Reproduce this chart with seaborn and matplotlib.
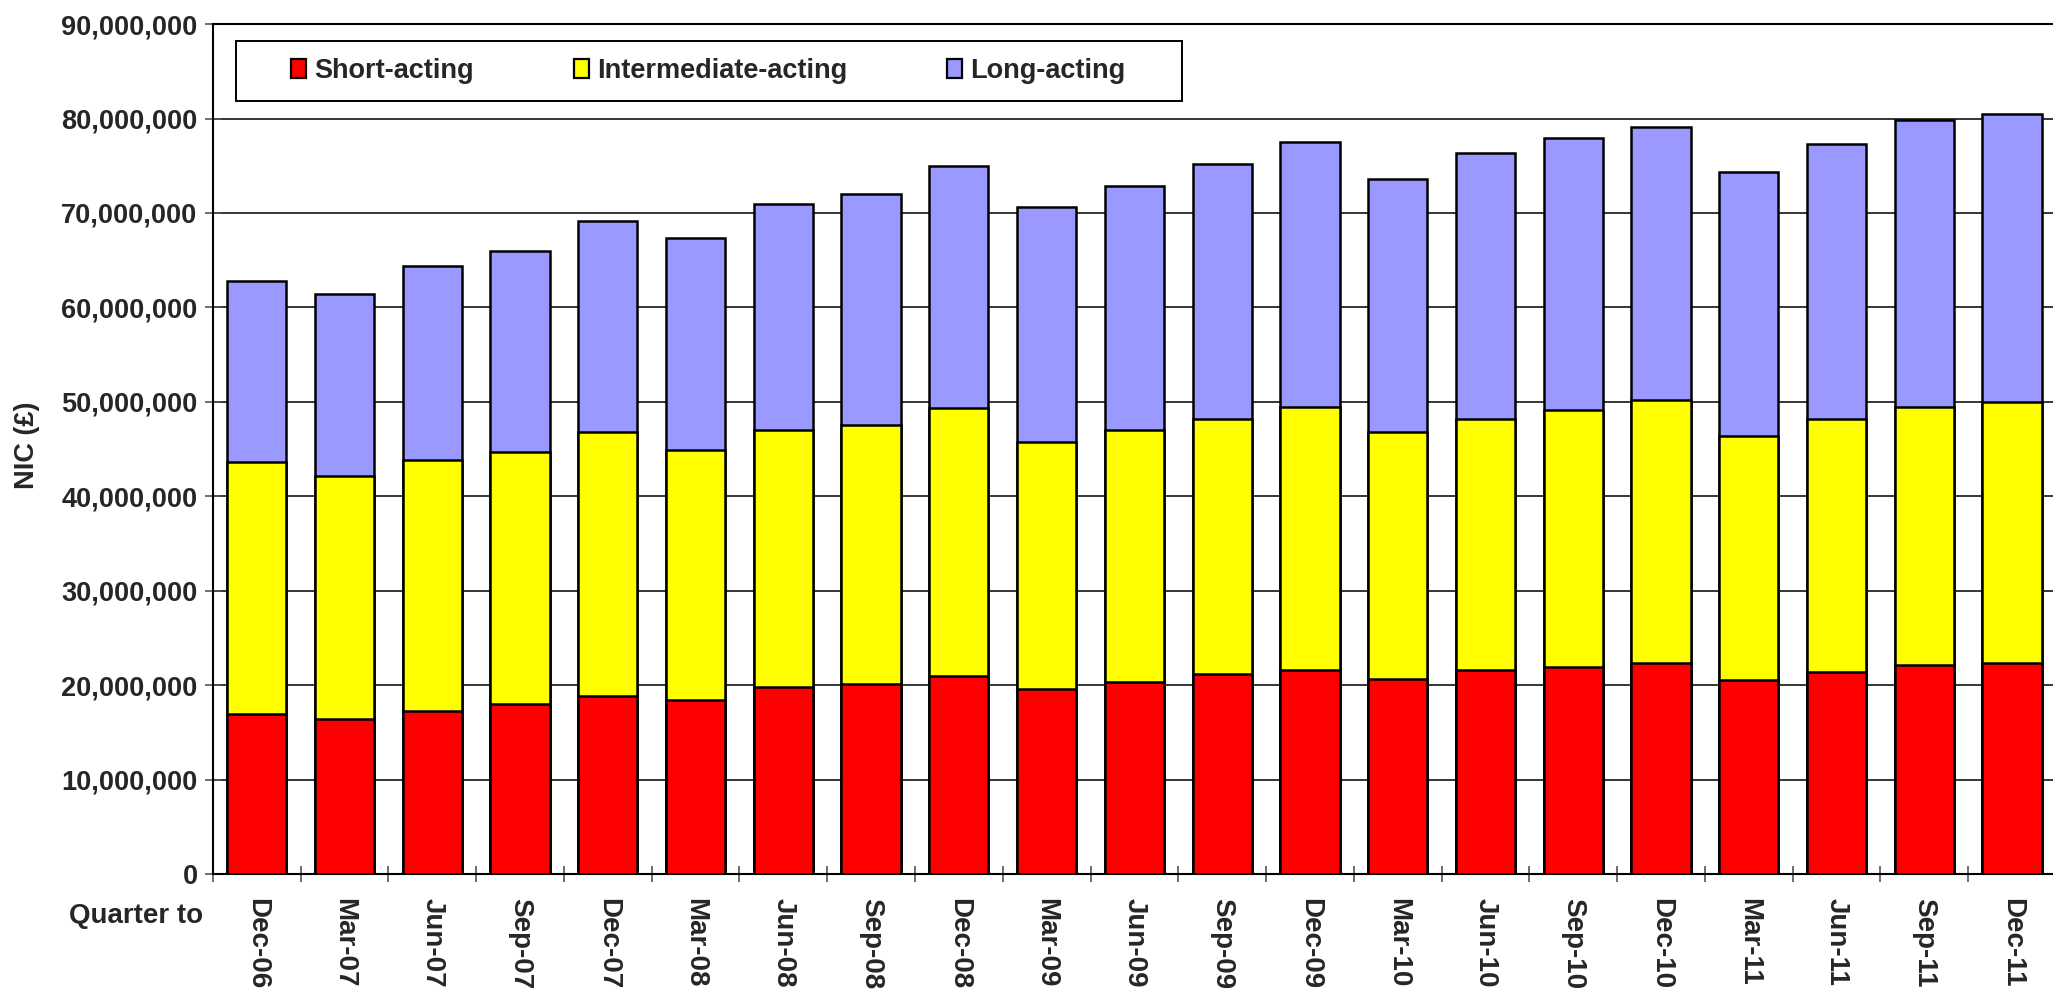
import numpy as np
import pandas as pd
import matplotlib
matplotlib.use('Agg')
import matplotlib.pyplot as plt
from matplotlib.patches import Patch, Rectangle
from matplotlib.ticker import FuncFormatter, MultipleLocator, FixedLocator
import seaborn as sns

quarters = ['Dec-06', 'Mar-07', 'Jun-07', 'Sep-07', 'Dec-07', 'Mar-08', 'Jun-08',
            'Sep-08', 'Dec-08', 'Mar-09', 'Jun-09', 'Sep-09', 'Dec-09', 'Mar-10',
            'Jun-10', 'Sep-10', 'Dec-10', 'Mar-11', 'Jun-11', 'Sep-11', 'Dec-11']

# NIC in pounds
short_acting = [16.9e6, 16.4e6, 17.3e6, 18.0e6, 18.9e6, 18.4e6, 19.8e6,
                20.1e6, 21.0e6, 19.6e6, 20.3e6, 21.2e6, 21.6e6, 20.7e6,
                21.6e6, 21.9e6, 22.3e6, 20.5e6, 21.4e6, 22.1e6, 22.3e6]
intermediate_acting = [26.7e6, 25.8e6, 26.5e6, 26.7e6, 27.9e6, 26.5e6, 27.2e6,
                       27.4e6, 28.3e6, 26.1e6, 26.7e6, 27.0e6, 27.9e6, 26.1e6,
                       26.6e6, 27.2e6, 27.9e6, 25.9e6, 26.8e6, 27.4e6, 27.7e6]
long_acting = [19.2e6, 19.2e6, 20.6e6, 21.3e6, 22.4e6, 22.5e6, 23.9e6,
               24.5e6, 25.7e6, 24.9e6, 25.9e6, 27.0e6, 28.0e6, 26.8e6,
               28.1e6, 28.8e6, 28.9e6, 27.9e6, 29.1e6, 30.3e6, 30.5e6]

series_names = ['Short-acting', 'Intermediate-acting', 'Long-acting']
colors = ['#FF0000', '#FFFF00', '#9999FF']

df = pd.DataFrame({'Quarter': quarters, 'Short': short_acting,
                   'Intermediate': intermediate_acting, 'Long': long_acting})
df['cum_short'] = df['Short']
df['cum_inter'] = df['Short'] + df['Intermediate']
df['cum_long'] = df['cum_inter'] + df['Long']

sns.set_theme(style='white')
plt.rcParams['font.family'] = ['Liberation Sans', 'DejaVu Sans']
plt.rcParams['font.weight'] = 'bold'

fig = plt.figure(figsize=(20.53, 9.91), dpi=100)
ax = fig.add_axes([0.1037, 0.118, 0.8977, 0.8577])

# draw tallest first so the lower stacks sit on top
for col, c in zip(['cum_long', 'cum_inter', 'cum_short'], colors[::-1]):
    sns.barplot(data=df, x='Quarter', y=col, color=c, width=0.675,
                edgecolor='black', linewidth=1.8, saturation=1, ax=ax, zorder=3)

ax.set_xlim(-0.5, 20.5)
ax.set_ylim(0, 90e6)
ax.yaxis.set_major_locator(MultipleLocator(10e6))
ax.yaxis.set_major_formatter(FuncFormatter(lambda v, p: f'{v:,.0f}'))
ax.grid(axis='y', color='black', linewidth=1.1, zorder=0)
ax.grid(axis='x', visible=False)
ax.set_axisbelow(True)

ax.set_xlabel('')
ax.set_ylabel('')
ax.tick_params(axis='y', which='major', direction='inout', length=12, width=1.2,
               color='#555555', left=True, pad=5, labelsize=19.5)
ax.tick_params(axis='x', which='major', length=0, pad=17, labelsize=20)
ax.xaxis.set_minor_locator(FixedLocator(np.arange(-0.5, 21, 1)))
ax.tick_params(axis='x', which='minor', direction='inout', length=12, width=1.2,
               color='#555555', bottom=True)
for lab in ax.get_xticklabels():
    lab.set_rotation(-90)
    lab.set_va('top')
    lab.set_ha('center')
    lab.set_fontweight('bold')
for lab in ax.get_yticklabels():
    lab.set_fontweight('bold')

for s in ['left', 'bottom', 'top']:
    ax.spines[s].set_visible(True)
    ax.spines[s].set_color('black')
    ax.spines[s].set_linewidth(1.5)
ax.spines['right'].set_visible(False)

# legend box
box = Rectangle((0.0125, 0.9094), 0.5133, 0.0706, transform=ax.transAxes,
                facecolor='white', edgecolor='black', linewidth=1.4, zorder=4)
ax.add_patch(box)
handles = [Patch(facecolor=c, edgecolor='black', linewidth=1.6) for c in colors]
leg = ax.legend(handles, series_names, ncol=3, loc='center left',
                bbox_to_anchor=(0.0423, 0.9447), frameon=False,
                prop={'size': 19.5, 'weight': 'bold'}, handlelength=0.55,
                handleheight=0.7, handletextpad=0.3, columnspacing=3.7,
                borderpad=0, borderaxespad=0)
leg.set_zorder(5)

fig.text(27 / 2053, 1 - 445 / 991, 'NIC (£)', rotation=90, ha='center',
         va='center', fontsize=19.5, fontweight='bold')
fig.text(203 / 2053, 1 - 916 / 991, 'Quarter to', ha='right', va='center',
         fontsize=20, fontweight='bold')

plt.savefig('out.png', dpi=100)
plt.close()
